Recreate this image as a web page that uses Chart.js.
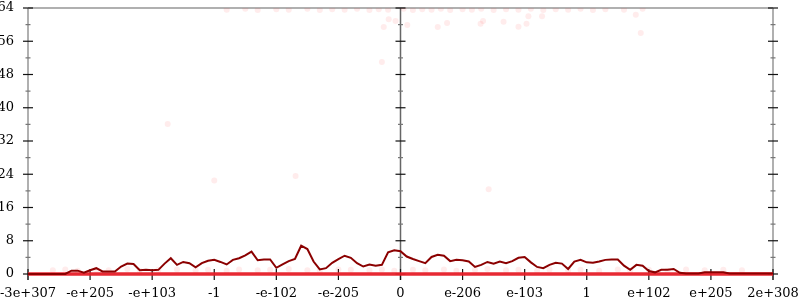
<!DOCTYPE html>
<html>
<head>
<meta charset="utf-8">
<script src="https://cdn.jsdelivr.net/npm/chart.js@4"></script>
<style>
  html, body { margin: 0; padding: 0; background: #fff; }
  #wrap { width: 800px; height: 300px; }
</style>
</head>
<body>
<div id="wrap"><canvas id="chart" width="800" height="300"></canvas></div>
<script>
// x axis: 13 tick positions from -6 to 6, labelled like the original
const xTickLabels = ['-3e+307', '-e+205', '-e+103', '-1', '-e-102', '-e-205', '0',
                     'e-206', 'e-103', '1', 'e+102', 'e+205', '2e+308'];

// line values, one every 0.1 unit from -6 to 6
const lineValues = [
  0, 0, 0, 0, 0, 0, 0, 0.8, 0.8, 0.3,
  0.9, 1.4, 0.6, 0.6, 0.6, 1.8, 2.5, 2.4, 0.9, 1.0,
  0.9, 1.0, 2.5, 3.8, 2.2, 2.9, 2.6, 1.6, 2.6, 3.2,
  3.4, 2.9, 2.3, 3.4, 3.8, 4.5, 5.4, 3.3, 3.5, 3.5,
  1.5, 2.3, 3.1, 3.6, 6.8, 6.0, 3.0, 1.1, 1.4, 2.7,
  3.6, 4.4, 3.9, 2.6, 1.8, 2.3, 2.0, 2.2, 5.2, 5.7,
  5.5,
  4.2, 3.6, 3.1, 2.6, 4.1, 4.6, 4.4, 3.1, 3.4, 3.3,
  3.0, 1.7, 2.2, 2.9, 2.5, 3.0, 2.6, 3.1, 3.9, 4.1,
  2.8, 1.7, 1.4, 2.2, 2.7, 2.5, 1.2, 3.0, 3.4, 2.8,
  2.7, 3.0, 3.4, 3.5, 3.5, 2.0, 1.0, 2.2, 2.0, 0.7,
  0.4, 1.0, 1.0, 1.2, 0.3, 0.1, 0.1, 0.1, 0.4, 0.4,
  0.4, 0.4, 0.1, 0.1, 0.1, 0.1, 0.1, 0.1, 0.1, 0.1
];

// faint sample dots
const dotX = [-2.8, -2.5, -2.3, -2.0, -1.8, -1.5, -1.3, -1.1, -0.9, -0.7, -0.5, -0.35, -0.2, 0.05, 0.2, 0.35,
              0.5, 0.65, 0.8, 1.0, 1.15, 1.3, 1.5, 1.7, 1.9, 2.1, 2.3, 2.5, 2.7, 2.9, 3.1, 3.3, 3.6, 3.9,
              -3.75, -3.0, -1.69, -0.27, -0.19, -0.08, 0.11, 0.6, 0.75, -0.3, 1.29, 1.33, 1.66, 1.9, 2.03,
              2.06, 2.28, 3.79, 3.87, 1.42,
              -5.6, -5.4, -5.2, -4.9, -4.7, -4.4, -4.2, -3.9, -3.6, -3.3, -3.1, -2.8, -2.6, -2.3, -2.1,
              -1.8, -1.5, -1.3, -1.0, -0.8, -0.5, -0.3, -0.1, 0.2, 0.4, 0.7, 0.9, 1.2, 1.4, 1.7, 1.9,
              2.2, 2.4, 2.7, 2.9, 3.2, 3.5, 3.7, 4.0, 4.3, 4.6, 4.9, 5.2, 5.5];
const dotY = [63.6, 63.8, 63.5, 63.7, 63.6, 63.8, 63.5, 63.7, 63.6, 63.8, 63.5, 63.7, 63.6, 63.8, 63.5, 63.7,
              63.6, 63.8, 63.5, 63.7, 63.6, 63.8, 63.5, 63.7, 63.6, 63.8, 63.5, 63.7, 63.6, 63.8, 63.5, 63.7, 63.6, 63.8,
              36.1, 22.5, 23.6, 59.4, 61.3, 60.9, 59.9, 59.4, 60.4, 51.0, 60.2, 60.9, 60.7, 59.5, 60.2,
              62.0, 62.0, 62.4, 58.0, 20.4,
              0.9, 1.1, 0.8, 1.0, 0.9, 1.2, 0.8, 1.0, 1.1, 0.9, 1.0, 0.8, 1.1, 0.9, 1.0,
              1.2, 0.9, 0.8, 1.1, 1.0, 0.9, 1.1, 0.8, 1.0, 0.9, 1.1, 0.8, 1.0, 1.2, 0.9, 1.0,
              0.8, 1.1, 0.9, 1.0, 0.8, 1.1, 0.9, 1.0, 0.8, 1.1, 0.9, 1.0, 0.9];

const linePoints = lineValues.map((v, i) => ({x: -6 + i / 10, y: v}));
const dotPoints = dotX.map((x, i) => ({x: x, y: dotY[i]}));

// axis lines and crossing ticks, placed through the chart scales
const axisDecor = {
    id: 'axisDecor',
    beforeDatasetsDraw(chart) {
        const c = chart.ctx, xs = chart.scales.x, ys = chart.scales.y;
        const a = chart.chartArea;
        c.save();
        c.lineWidth = 2;
        c.strokeStyle = '#b0b0b0';
        c.beginPath();
        c.moveTo(a.left, a.top); c.lineTo(a.right, a.top);
        c.moveTo(a.left, a.top); c.lineTo(a.left, a.bottom + 6);
        c.moveTo(a.right, a.top); c.lineTo(a.right, a.bottom + 6);
        c.stroke();
        const cx = xs.getPixelForValue(0);
        c.lineWidth = 1.5;
        c.strokeStyle = '#666';
        c.beginPath(); c.moveTo(cx, a.top); c.lineTo(cx, a.bottom + 6); c.stroke();
        [a.left, cx, a.right].forEach(px => {
            for (let v = 0; v <= 64; v += 4) {
                const py = ys.getPixelForValue(v);
                const major = v % 8 === 0;
                c.strokeStyle = major ? '#111' : '#777';
                c.lineWidth = 1.2;
                const h = major ? 5 : 2.5;
                c.beginPath(); c.moveTo(px - h, py); c.lineTo(px + h, py); c.stroke();
            }
        });
        for (let v = -6; v <= 6; v++) {
            const px = xs.getPixelForValue(v);
            c.strokeStyle = '#111';
            c.lineWidth = 1.2;
            c.beginPath(); c.moveTo(px, a.bottom - 5); c.lineTo(px, a.bottom + 6); c.stroke();
        }
        c.restore();
    }
};

const ctx = document.getElementById('chart').getContext('2d');
const chart = new Chart(ctx, {
    type: 'scatter',
    data: {
        datasets: [{
            data: dotPoints,
            showLine: false,
            pointRadius: 3,
            pointBackgroundColor: 'rgba(255, 40, 40, 0.09)',
            pointBorderWidth: 0,
            order: 3
        }, {
            data: [{x: -6, y: 0}, {x: 6, y: 0}],
            showLine: true,
            borderColor: 'rgba(230, 30, 40, 0.95)',
            borderWidth: 3.5,
            pointRadius: 0,
            clip: false,
            order: 2
        }, {
            data: linePoints,
            showLine: true,
            borderColor: '#8b0000',
            borderWidth: 2,
            pointRadius: 0,
            tension: 0,
            clip: false,
            order: 1
        }]
    },
    options: {
        responsive: false,
        animation: false,
        layout: { padding: { top: 8, right: 27, left: 0, bottom: 0 } },
        plugins: { legend: { display: false }, tooltip: { enabled: false } },
        scales: {
            x: {
                type: 'linear',
                min: -6,
                max: 6,
                afterFit: s => { s.height = 26; s.paddingLeft = 0; s.paddingRight = 0; },
                grid: { display: false },
                border: { display: false },
                ticks: {
                    stepSize: 1,
                    autoSkip: false,
                    maxRotation: 0,
                    padding: 4,
                    color: '#000',
                    font: { family: 'DejaVu Serif', size: 13 },
                    callback: v => xTickLabels[Math.round(v) + 6]
                }
            },
            y: {
                min: 0,
                max: 64,
                afterFit: s => { s.width = 28; s.paddingTop = 0; s.paddingBottom = 0; },
                grid: { display: false },
                border: { display: false },
                ticks: {
                    stepSize: 4,
                    padding: 6,
                    color: '#000',
                    font: { family: 'DejaVu Serif', size: 13 },
                    callback: v => (v % 8 === 0 ? v : '')
                }
            }
        }
    },
    plugins: [axisDecor]
});
</script>
</body>
</html>
